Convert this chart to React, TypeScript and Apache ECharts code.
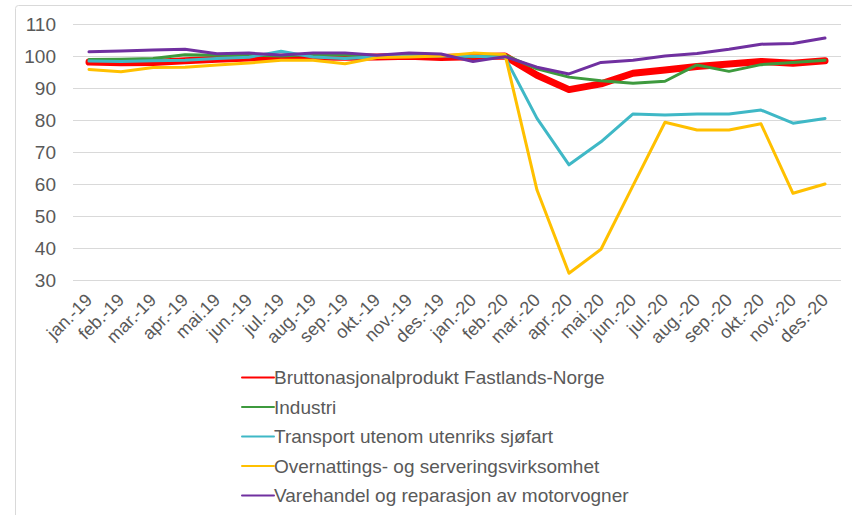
import React, { useEffect, useRef } from "react";
import * as echarts from "echarts";

const categories = [
  "jan.-19", "feb.-19", "mar.-19", "apr.-19", "mai.19", "jun.-19",
  "jul.-19", "aug.-19", "sep.-19", "okt.-19", "nov.-19", "des.-19",
  "jan.-20", "feb.-20", "mar.-20", "apr.-20", "mai.20", "jun.-20",
  "jul.-20", "aug.-20", "sep.-20", "okt.-20", "nov.-20", "des.-20",
];

const bnp = [98.1, 97.9, 98.0, 98.5, 99.0, 99.4, 99.6, 99.7, 99.6, 99.7, 99.9, 99.5, 99.8, 100.0, 94.0, 89.5, 91.3, 94.6, 95.6, 96.7, 97.5, 98.3, 97.7, 98.5];
const industri = [98.9, 99.0, 99.2, 100.4, 100.2, 100.3, 100.0, 100.5, 100.3, 100.0, 100.3, 100.2, 99.8, 100.3, 96.0, 93.4, 92.3, 91.5, 92.1, 97.2, 95.2, 97.3, 98.0, 98.7];
const transport = [98.4, 98.3, 98.5, 98.7, 99.2, 99.6, 101.5, 99.7, 99.2, 99.8, 100.0, 100.0, 99.9, 99.6, 80.5, 66.0, 73.2, 81.9, 81.6, 81.9, 81.9, 83.1, 79.0, 80.5];
const overnatting = [95.8, 95.1, 96.4, 96.5, 97.2, 97.8, 98.7, 98.7, 97.6, 99.5, 99.7, 100.0, 100.9, 100.5, 58.1, 32.1, 39.6, 59.5, 79.3, 76.9, 76.9, 78.8, 57.1, 60.0];
const varehandel = [101.3, 101.6, 101.9, 102.1, 100.7, 100.9, 100.3, 100.9, 100.9, 100.2, 100.9, 100.6, 98.3, 99.8, 96.5, 94.4, 98.0, 98.7, 100.0, 100.8, 102.1, 103.7, 103.9, 105.6];

const seriesNames = [
  "Bruttonasjonalprodukt Fastlands-Norge",
  "Industri",
  "Transport utenom utenriks sjøfart",
  "Overnattings- og serveringsvirksomhet",
  "Varehandel og reparasjon av motorvogner",
];

export default function App() {
  const ref = useRef<HTMLDivElement>(null);
  useEffect(() => {
    if (!ref.current) return;
    const chart = echarts.init(ref.current, undefined, { renderer: "svg" });
    const font = "Liberation Sans, Arial, sans-serif";
    const mk = (name: string, data: number[], color: string, width: number) => ({
      name,
      type: "line",
      data,
      symbol: "none",
      showSymbol: false,
      lineStyle: { color, width, cap: "round", join: "round" },
      itemStyle: { color },
    });
    chart.setOption({
      animation: false,
      backgroundColor: "#ffffff",
      textStyle: { fontFamily: font },
      graphic: [
        {
          type: "rect",
          shape: { x: 15.5, y: 5.5, width: 860, height: 540, r: 3 },
          style: { fill: "none", stroke: "#d9d9d9", lineWidth: 1 },
          silent: true,
          z: -1,
        },
      ],
      grid: { left: 73, right: 11, top: 24, height: 256, containLabel: false },
      xAxis: {
        type: "category",
        data: categories,
        boundaryGap: true,
        axisLine: { show: false },
        axisTick: { show: false },
        axisLabel: {
          rotate: 45,
          interval: 0,
          margin: 17,
          color: "#595959",
          fontSize: 18,
          fontFamily: font,
        },
      },
      yAxis: {
        type: "value",
        min: 30,
        max: 110,
        interval: 10,
        axisLine: { show: false },
        axisTick: { show: false },
        axisLabel: { color: "#595959", fontSize: 19, margin: 17, fontFamily: font },
        splitLine: { lineStyle: { color: "#d9d9d9", width: 1 } },
      },
      legend: {
        orient: "vertical",
        left: 236,
        top: 363,
        itemWidth: 32,
        itemHeight: 12,
        itemGap: 10.5,
        itemStyle: { opacity: 0 },
        textStyle: { color: "#595959", fontSize: 19, lineHeight: 19, fontFamily: font, padding: [0, 0, 0, -5] },
        data: seriesNames,
      },
      series: [
        mk(seriesNames[0], bnp, "#ff0000", 7),
        mk(seriesNames[1], industri, "#3e9a3e", 3),
        mk(seriesNames[2], transport, "#3fb8c6", 3),
        mk(seriesNames[3], overnatting, "#ffc000", 3),
        mk(seriesNames[4], varehandel, "#7030a0", 3),
      ],
    });
    return () => chart.dispose();
  }, []);
  return <div ref={ref} style={{ width: 852, height: 515, position: "absolute", left: 0, top: 0 }} />;
}
